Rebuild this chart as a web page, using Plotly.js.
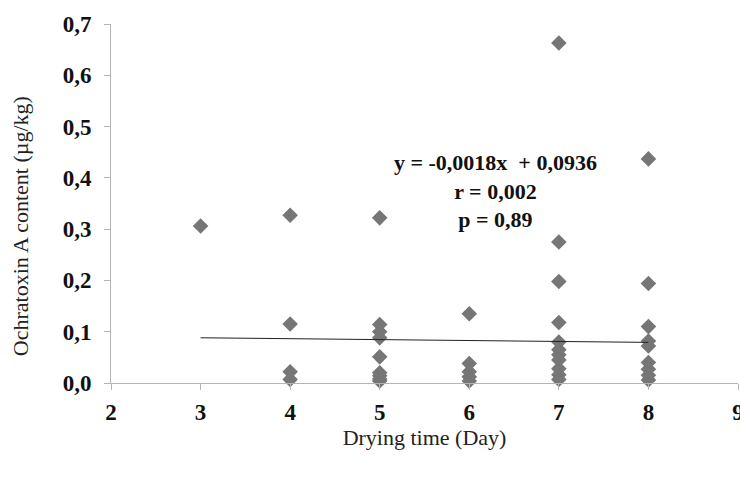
<!DOCTYPE html>
<html>
<head>
<meta charset="utf-8">
<script src="https://cdn.plot.ly/plotly-3.0.1.min.js"></script>
<style>html,body{margin:0;padding:0;background:#fff;}</style>
</head>
<body>
<div id="chart" style="width:740px;height:477px;"></div>
<script>
// Data
const day3 = [0.306];
const day4 = [0.327, 0.115, 0.022, 0.007];
const day5 = [0.322, 0.114, 0.100, 0.088, 0.051, 0.020, 0.014, 0.008, 0.004];
const day6 = [0.135, 0.038, 0.022, 0.012, 0.004];
const day7 = [0.663, 0.275, 0.198, 0.118, 0.080, 0.065, 0.055, 0.045, 0.028, 0.016, 0.007];
const day8 = [0.437, 0.194, 0.110, 0.082, 0.072, 0.040, 0.027, 0.015, 0.006];
const days = [3, 4, 5, 6, 7, 8];
const groups = [day3, day4, day5, day6, day7, day8];

const slope = -0.0018;
const intercept = 0.0936;
const fitX = [3, 8];
const xTicks = [2, 3, 4, 5, 6, 7, 8, 9];
const yTicks = [0, 0.1, 0.2, 0.3, 0.4, 0.5, 0.6, 0.7];
const yTickText = ['0,0', '0,1', '0,2', '0,3', '0,4', '0,5', '0,6', '0,7'];
const eqText = 'y = -0,0018x  + 0,0936<br>r = 0,002<br>p = 0,89';
const xTitle = 'Drying time (Day)';
const yTitle = 'Ochratoxin A content (µg/kg)';

const xs = [], ys = [];
groups.forEach((g, i) => g.forEach(v => { xs.push(days[i]); ys.push(v); }));

const traces = [
  {
    x: xs, y: ys, type: 'scatter', mode: 'markers',
    marker: {symbol: 'diamond', size: 12, color: '#767676'},
    hoverinfo: 'skip', cliponaxis: false
  },
  {
    x: fitX, y: fitX.map(v => slope * v + intercept), type: 'scatter', mode: 'lines',
    line: {color: '#222222', width: 1}, hoverinfo: 'skip'
  }
];

const serif = 'Liberation Serif, Times New Roman, serif';
const axisCommon = {
  showgrid: false, zeroline: false, showline: true, linecolor: '#b4b4b4', linewidth: 1,
  ticks: 'outside', ticklen: 6, tickcolor: '#b4b4b4', ticklabeloverflow: 'allow',
  tickfont: {family: serif, size: 23, color: '#111', weight: 'bold'}
};

const layout = {
  width: 740, height: 477,
  margin: {l: 111, r: 2, t: 24, b: 94},
  paper_bgcolor: '#fff', plot_bgcolor: '#fff',
  showlegend: false,
  xaxis: Object.assign({}, axisCommon, {
    range: [2, 9], tickvals: xTicks, ticktext: xTicks.map(String),
    ticklabelstandoff: 2,
    title: {text: xTitle, font: {family: serif, size: 22, color: '#222'}, standoff: 3}
  }),
  yaxis: Object.assign({}, axisCommon, {
    range: [0, 0.7], tickvals: yTicks, ticktext: yTickText,
    ticklabelstandoff: 8,
    title: {text: ''}
  }),
  annotations: [
    {
      x: 6.29, y: 0.374, xref: 'x', yref: 'y', text: eqText, showarrow: false,
      align: 'center', font: {family: serif, size: 22, color: '#111', weight: 'bold'}
    },
    {
      x: -0.145, y: 0.437, xref: 'paper', yref: 'paper', text: yTitle, showarrow: false,
      textangle: -90, xanchor: 'center', yanchor: 'middle',
      font: {family: serif, size: 22, color: '#222'}
    }
  ]
};

Plotly.newPlot('chart', traces, layout, {displayModeBar: false, staticPlot: true});
</script>
</body>
</html>
